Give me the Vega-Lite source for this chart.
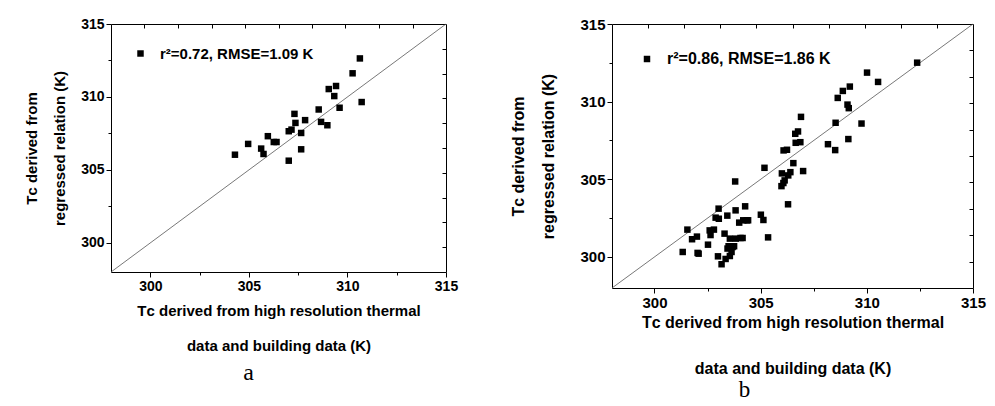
{
  "$schema": "https://vega.github.io/schema/vega-lite/v6.json",
  "padding": {"left": 24, "top": 17, "right": 5, "bottom": 0},
  "background": "white",
  "datasets": {
    "diag": [{"v": 298}, {"v": 315}],
    "a": [
      {"x": 304.29, "y": 306.04, "s": "r²=0.72, RMSE=1.09 K"},
      {"x": 304.96, "y": 306.78, "s": "r²=0.72, RMSE=1.09 K"},
      {"x": 305.62, "y": 306.46, "s": "r²=0.72, RMSE=1.09 K"},
      {"x": 305.74, "y": 306.09, "s": "r²=0.72, RMSE=1.09 K"},
      {"x": 305.96, "y": 307.31, "s": "r²=0.72, RMSE=1.09 K"},
      {"x": 306.26, "y": 306.91, "s": "r²=0.72, RMSE=1.09 K"},
      {"x": 306.40, "y": 306.91, "s": "r²=0.72, RMSE=1.09 K"},
      {"x": 307.02, "y": 305.63, "s": "r²=0.72, RMSE=1.09 K"},
      {"x": 307.02, "y": 307.65, "s": "r²=0.72, RMSE=1.09 K"},
      {"x": 307.16, "y": 307.76, "s": "r²=0.72, RMSE=1.09 K"},
      {"x": 307.31, "y": 308.84, "s": "r²=0.72, RMSE=1.09 K"},
      {"x": 307.36, "y": 308.22, "s": "r²=0.72, RMSE=1.09 K"},
      {"x": 307.65, "y": 307.53, "s": "r²=0.72, RMSE=1.09 K"},
      {"x": 307.65, "y": 306.41, "s": "r²=0.72, RMSE=1.09 K"},
      {"x": 307.85, "y": 308.41, "s": "r²=0.72, RMSE=1.09 K"},
      {"x": 308.54, "y": 309.14, "s": "r²=0.72, RMSE=1.09 K"},
      {"x": 308.66, "y": 308.29, "s": "r²=0.72, RMSE=1.09 K"},
      {"x": 308.98, "y": 308.06, "s": "r²=0.72, RMSE=1.09 K"},
      {"x": 309.05, "y": 310.54, "s": "r²=0.72, RMSE=1.09 K"},
      {"x": 309.33, "y": 310.06, "s": "r²=0.72, RMSE=1.09 K"},
      {"x": 309.42, "y": 310.75, "s": "r²=0.72, RMSE=1.09 K"},
      {"x": 309.60, "y": 309.26, "s": "r²=0.72, RMSE=1.09 K"},
      {"x": 310.26, "y": 311.62, "s": "r²=0.72, RMSE=1.09 K"},
      {"x": 310.63, "y": 312.64, "s": "r²=0.72, RMSE=1.09 K"},
      {"x": 310.72, "y": 309.65, "s": "r²=0.72, RMSE=1.09 K"}
    ],
    "b": [
      {"x": 301.33, "y": 300.32, "s": "r²=0.86, RMSE=1.86 K"},
      {"x": 301.55, "y": 301.76, "s": "r²=0.86, RMSE=1.86 K"},
      {"x": 301.77, "y": 301.14, "s": "r²=0.86, RMSE=1.86 K"},
      {"x": 302.00, "y": 301.31, "s": "r²=0.86, RMSE=1.86 K"},
      {"x": 302.03, "y": 300.26, "s": "r²=0.86, RMSE=1.86 K"},
      {"x": 302.08, "y": 300.21, "s": "r²=0.86, RMSE=1.86 K"},
      {"x": 302.52, "y": 300.79, "s": "r²=0.86, RMSE=1.86 K"},
      {"x": 302.60, "y": 301.71, "s": "r²=0.86, RMSE=1.86 K"},
      {"x": 302.64, "y": 301.41, "s": "r²=0.86, RMSE=1.86 K"},
      {"x": 302.80, "y": 301.76, "s": "r²=0.86, RMSE=1.86 K"},
      {"x": 302.88, "y": 302.53, "s": "r²=0.86, RMSE=1.86 K"},
      {"x": 302.99, "y": 300.04, "s": "r²=0.86, RMSE=1.86 K"},
      {"x": 303.02, "y": 303.11, "s": "r²=0.86, RMSE=1.86 K"},
      {"x": 303.03, "y": 302.46, "s": "r²=0.86, RMSE=1.86 K"},
      {"x": 303.16, "y": 299.53, "s": "r²=0.86, RMSE=1.86 K"},
      {"x": 303.30, "y": 301.50, "s": "r²=0.86, RMSE=1.86 K"},
      {"x": 303.35, "y": 299.87, "s": "r²=0.86, RMSE=1.86 K"},
      {"x": 303.43, "y": 302.66, "s": "r²=0.86, RMSE=1.86 K"},
      {"x": 303.44, "y": 300.54, "s": "r²=0.86, RMSE=1.86 K"},
      {"x": 303.49, "y": 300.69, "s": "r²=0.86, RMSE=1.86 K"},
      {"x": 303.55, "y": 301.18, "s": "r²=0.86, RMSE=1.86 K"},
      {"x": 303.55, "y": 300.06, "s": "r²=0.86, RMSE=1.86 K"},
      {"x": 303.63, "y": 300.32, "s": "r²=0.86, RMSE=1.86 K"},
      {"x": 303.68, "y": 300.64, "s": "r²=0.86, RMSE=1.86 K"},
      {"x": 303.75, "y": 300.69, "s": "r²=0.86, RMSE=1.86 K"},
      {"x": 303.80, "y": 304.86, "s": "r²=0.86, RMSE=1.86 K"},
      {"x": 303.82, "y": 303.00, "s": "r²=0.86, RMSE=1.86 K"},
      {"x": 303.83, "y": 301.18, "s": "r²=0.86, RMSE=1.86 K"},
      {"x": 303.99, "y": 302.21, "s": "r²=0.86, RMSE=1.86 K"},
      {"x": 304.05, "y": 301.22, "s": "r²=0.86, RMSE=1.86 K"},
      {"x": 304.15, "y": 301.22, "s": "r²=0.86, RMSE=1.86 K"},
      {"x": 304.18, "y": 302.36, "s": "r²=0.86, RMSE=1.86 K"},
      {"x": 304.27, "y": 303.26, "s": "r²=0.86, RMSE=1.86 K"},
      {"x": 304.35, "y": 302.36, "s": "r²=0.86, RMSE=1.86 K"},
      {"x": 304.41, "y": 302.36, "s": "r²=0.86, RMSE=1.86 K"},
      {"x": 305.01, "y": 302.72, "s": "r²=0.86, RMSE=1.86 K"},
      {"x": 305.13, "y": 302.38, "s": "r²=0.86, RMSE=1.86 K"},
      {"x": 305.18, "y": 305.74, "s": "r²=0.86, RMSE=1.86 K"},
      {"x": 305.35, "y": 301.26, "s": "r²=0.86, RMSE=1.86 K"},
      {"x": 305.98, "y": 304.56, "s": "r²=0.86, RMSE=1.86 K"},
      {"x": 306.00, "y": 305.38, "s": "r²=0.86, RMSE=1.86 K"},
      {"x": 306.07, "y": 304.76, "s": "r²=0.86, RMSE=1.86 K"},
      {"x": 306.08, "y": 306.86, "s": "r²=0.86, RMSE=1.86 K"},
      {"x": 306.13, "y": 304.93, "s": "r²=0.86, RMSE=1.86 K"},
      {"x": 306.24, "y": 306.90, "s": "r²=0.86, RMSE=1.86 K"},
      {"x": 306.29, "y": 303.39, "s": "r²=0.86, RMSE=1.86 K"},
      {"x": 306.30, "y": 305.25, "s": "r²=0.86, RMSE=1.86 K"},
      {"x": 306.40, "y": 305.46, "s": "r²=0.86, RMSE=1.86 K"},
      {"x": 306.54, "y": 306.04, "s": "r²=0.86, RMSE=1.86 K"},
      {"x": 306.63, "y": 307.93, "s": "r²=0.86, RMSE=1.86 K"},
      {"x": 306.65, "y": 307.35, "s": "r²=0.86, RMSE=1.86 K"},
      {"x": 306.76, "y": 308.08, "s": "r²=0.86, RMSE=1.86 K"},
      {"x": 306.87, "y": 307.39, "s": "r²=0.86, RMSE=1.86 K"},
      {"x": 306.90, "y": 309.02, "s": "r²=0.86, RMSE=1.86 K"},
      {"x": 307.00, "y": 305.53, "s": "r²=0.86, RMSE=1.86 K"},
      {"x": 308.17, "y": 307.26, "s": "r²=0.86, RMSE=1.86 K"},
      {"x": 308.51, "y": 306.88, "s": "r²=0.86, RMSE=1.86 K"},
      {"x": 308.53, "y": 308.64, "s": "r²=0.86, RMSE=1.86 K"},
      {"x": 308.63, "y": 310.24, "s": "r²=0.86, RMSE=1.86 K"},
      {"x": 308.87, "y": 310.69, "s": "r²=0.86, RMSE=1.86 K"},
      {"x": 309.09, "y": 309.81, "s": "r²=0.86, RMSE=1.86 K"},
      {"x": 309.15, "y": 309.58, "s": "r²=0.86, RMSE=1.86 K"},
      {"x": 309.13, "y": 307.59, "s": "r²=0.86, RMSE=1.86 K"},
      {"x": 309.20, "y": 310.97, "s": "r²=0.86, RMSE=1.86 K"},
      {"x": 309.75, "y": 308.59, "s": "r²=0.86, RMSE=1.86 K"},
      {"x": 310.01, "y": 311.87, "s": "r²=0.86, RMSE=1.86 K"},
      {"x": 310.53, "y": 311.27, "s": "r²=0.86, RMSE=1.86 K"},
      {"x": 312.37, "y": 312.51, "s": "r²=0.86, RMSE=1.86 K"}
    ]
  },
  "hconcat": [
    {
      "width": 335,
      "height": 248,
      "title": {"text": "a", "orient": "bottom", "font": "Liberation Serif", "fontSize": 24, "fontWeight": "normal", "color": "black", "anchor": "middle", "frame": "group", "dx": -30, "offset": 8},
      "layer": [
        {
          "data": {"name": "diag"},
          "mark": {"type": "line", "color": "#555555", "strokeWidth": 0.8},
          "encoding": {
            "x": {"field": "v", "type": "quantitative", "scale": {"domain": [298, 315], "nice": false, "zero": false},
              "axis": {"orient": "bottom", "values": [300, 302.5, 305, 307.5, 310, 312.5, 315], "labelExpr": "datum.value % 5 === 0 ? datum.label : ''",
                "tickSize": {"condition": {"test": "datum.value % 5 === 0", "value": 5}, "value": 3},
                "title": ["Tᴄ derived from high resolution thermal", "data and building data (K)"], "titleFontSize": 15, "titleLineHeight": 35, "titlePadding": 10, "labelPadding": 2}},
            "y": {"field": "v", "type": "quantitative", "scale": {"domain": [298, 315], "nice": false, "zero": false},
              "axis": {"orient": "left", "values": [300, 302.5, 305, 307.5, 310, 312.5, 315], "labelExpr": "datum.value % 5 === 0 ? datum.label : ''",
                "tickSize": {"condition": {"test": "datum.value % 5 === 0", "value": 5}, "value": 3},
                "title": ["Tᴄ derived from", "regressed relation (K)"], "titleFontSize": 15, "titleLineHeight": 28, "titlePadding": 13, "labelPadding": 2}}
          }
        },
        {
          "data": {"name": "a"},
          "mark": {"type": "square", "size": 42, "opacity": 1},
          "encoding": {
            "x": {"field": "x", "type": "quantitative", "axis": {"orient": "top", "values": [299.7, 301.4, 303.1, 304.8, 306.5, 308.2, 309.9, 311.6, 313.3], "labels": false, "title": null, "tickSize": -4}},
            "y": {"field": "y", "type": "quantitative", "axis": {"orient": "right", "values": [299.7, 301.4, 303.1, 304.8, 306.5, 308.2, 309.9, 311.6, 313.3], "labels": false, "title": null, "tickSize": -4}},
            "color": {"field": "s", "type": "nominal", "scale": {"range": ["black"]},
              "legend": {"orient": "top-left", "title": null, "offset": 22, "symbolType": "square", "symbolSize": 42, "labelFontSize": 15, "labelFont": "Liberation Sans", "labelFontWeight": "bold", "labelColor": "black", "labelOffset": 12, "labelLimit": 400}}
          }
        }
      ],
      "resolve": {"axis": {"x": "independent", "y": "independent"}}
    },
    {
      "width": 361,
      "height": 264,
      "title": {"text": "b", "orient": "bottom", "font": "Liberation Serif", "fontSize": 23, "fontWeight": "normal", "color": "black", "anchor": "middle", "frame": "group", "dx": -48, "offset": 3},
      "layer": [
        {
          "data": {"name": "diag"},
          "mark": {"type": "line", "color": "#555555", "strokeWidth": 0.8},
          "encoding": {
            "x": {"field": "v", "type": "quantitative", "scale": {"domain": [298, 315], "nice": false, "zero": false},
              "axis": {"orient": "bottom", "values": [300, 302.5, 305, 307.5, 310, 312.5, 315], "labelExpr": "datum.value % 5 === 0 ? datum.label : ''",
                "tickSize": {"condition": {"test": "datum.value % 5 === 0", "value": 5}, "value": 3},
                "labelFontSize": 15,
                "title": ["Tᴄ derived from high resolution thermal", "data and building data (K)"], "titleFontSize": 16, "titleLineHeight": 46, "titlePadding": 4, "labelPadding": 2}},
            "y": {"field": "v", "type": "quantitative", "scale": {"domain": [298, 315], "nice": false, "zero": false},
              "axis": {"orient": "left", "values": [300, 302.5, 305, 307.5, 310, 312.5, 315], "labelExpr": "datum.value % 5 === 0 ? datum.label : ''",
                "tickSize": {"condition": {"test": "datum.value % 5 === 0", "value": 5}, "value": 3},
                "labelFontSize": 15,
                "title": ["Tᴄ derived from", "regressed relation (K)"], "titleFontSize": 16, "titleLineHeight": 30, "titlePadding": 23, "labelPadding": 2}}
          }
        },
        {
          "data": {"name": "b"},
          "mark": {"type": "square", "size": 42, "opacity": 1},
          "encoding": {
            "x": {"field": "x", "type": "quantitative", "axis": {"orient": "top", "values": [299.7, 301.4, 303.1, 304.8, 306.5, 308.2, 309.9, 311.6, 313.3], "labels": false, "title": null, "tickSize": -4}},
            "y": {"field": "y", "type": "quantitative", "axis": {"orient": "right", "values": [299.7, 301.4, 303.1, 304.8, 306.5, 308.2, 309.9, 311.6, 313.3], "labels": false, "title": null, "tickSize": -4}},
            "color": {"field": "s", "type": "nominal", "scale": {"range": ["black"]},
              "legend": {"orient": "top-left", "title": null, "offset": 27, "symbolType": "square", "symbolSize": 42, "labelFontSize": 16, "labelFont": "Liberation Sans", "labelFontWeight": "bold", "labelColor": "black", "labelOffset": 12, "labelLimit": 400}}
          }
        }
      ],
      "resolve": {"axis": {"x": "independent", "y": "independent"}}
    }
  ],
  "spacing": 52,
  "resolve": {"scale": {"color": "independent"}, "legend": {"color": "independent"}},
  "config": {
    "view": {"stroke": null},
    "font": "Liberation Sans",
    "axis": {
      "grid": false,
      "domainColor": "black",
      "domainWidth": 1,
      "tickColor": "black",
      "tickWidth": 1,
      "labelFont": "Liberation Sans",
      "labelFontSize": 14,
      "labelFontWeight": "bold",
      "labelColor": "black",
      "labelFlush": false,
      "labelOverlap": false,
      "titleFont": "Liberation Sans",
      "titleFontSize": 15,
      "titleFontWeight": "bold",
      "titleColor": "black"
    }
  }
}
